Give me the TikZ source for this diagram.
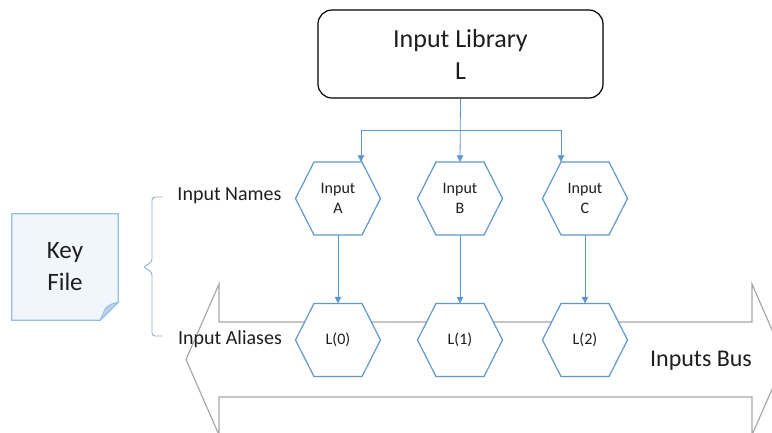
\documentclass[tikz,border=0pt]{standalone}
\usepackage{fontspec}
\setmainfont{Carlito}
\usetikzlibrary{arrows.meta}

\definecolor{hexblue}{RGB}{95,152,208}
\definecolor{arrowblue}{RGB}{92,148,205}
\definecolor{busgray}{RGB}{168,168,168}
\definecolor{notefill}{RGB}{240,246,252}
\definecolor{noteline}{RGB}{150,190,228}
\definecolor{notefold}{RGB}{185,207,234}
\definecolor{bracecol}{RGB}{150,172,198}
\definecolor{txt}{RGB}{30,30,30}

% hexagon with flat top and bottom, drawn behind a named text node
\newcommand\hexnode[3]{%
  \draw[hexline] (#2) ++(-42.5,0) -- ++(18.5,-36.5) -- ++(48,0) -- ++(18.5,36.5)
    -- ++(-18.5,36.5) -- ++(-48,0) -- cycle;
  \node[hexa] (#1) at (#2) {#3};}

\tikzset{
  hexline/.style={draw=hexblue, line width=1.2pt, fill=white, line join=miter},
  hexa/.style={rectangle, minimum width=85pt, minimum height=73pt, inner sep=0pt,
    align=center, font=\fontsize{16}{20}\selectfont, text=txt},
  conn/.style={draw=arrowblue, line width=0.8pt,
    -{Triangle[width=6.5pt,length=6.5pt]}},
  lbl/.style={font=\fontsize{20}{24}\selectfont, text=txt, inner sep=0pt},
}

\begin{document}
\begin{tikzpicture}[x=1pt, y=-1pt]
\useasboundingbox (0,0) rectangle (772,432);
\clip (0,0) rectangle (772,432);

% double-headed bus arrow
\draw[draw=busgray, line width=1.2pt, fill=white, line join=miter]
  (186,359.5) -- (219,284) -- (219,322) -- (752,322) -- (752,284)
  -- (785,359.5) -- (752,435) -- (752,397) -- (219,397) -- (219,435) -- cycle;
\node[font=\fontsize{24}{28}\selectfont, text=txt, inner sep=0pt] (bus) at (701,361) {Inputs Bus};

% library box
\node[draw=black, line width=1.2pt, rounded corners=14pt, fill=white,
  minimum width=285pt, minimum height=88pt, align=center,
  font=\fontsize{26}{32}\selectfont, text=txt] (lib) at (460.5,54) {Input Library\\L};

% input name hexagons
\hexnode{ha}{338,198.5}{Input\\A}
\hexnode{hb}{460,198.5}{Input\\B}
\hexnode{hc}{585,198.5}{Input\\C}

% alias hexagons
\hexnode{la}{338,340}{L(0)}
\hexnode{lb}{460,340}{L(1)}
\hexnode{lc}{585,340}{L(2)}

% library fan-out
\coordinate (split) at (460,130);
\draw[conn] (lib.south) -- (hb.north);
\draw[conn] (split) -| ([xshift=23pt]ha.north);
\draw[conn] (split) -| ([xshift=-24pt]hc.north);

% names to aliases
\draw[conn] (ha.south) -- (la.north);
\draw[conn] (hb.south) -- (lb.north);
\draw[conn] (hc.south) -- (lc.north);

% side labels
\node[lbl] (names) at (229.5,196) {Input Names};
\node[lbl] (aliases) at (230,339) {Input Aliases};

% brace grouping the two label rows
\draw[bracecol, line width=0.9pt, rounded corners=3pt]
  (163,197) -- (152,197) -- (152,262) -- (143,267) -- (152,272) -- (152,336) -- (163,336);

% key file note with folded corner
\node[minimum width=106pt, minimum height=106pt, inner sep=0pt] (key) at (65,267) {};
\fill[notefill] (key.north west) -- (key.north east) -- ([yshift=18pt]key.south east)
  -- ([xshift=-18pt]key.south east) -- (key.south west) -- cycle;
\draw[noteline, line width=1.2pt, line join=miter] (key.north west) -- (key.north east)
  -- ([yshift=18pt]key.south east) -- ([xshift=-18pt]key.south east) -- (key.south west) -- cycle;
\draw[noteline, line width=0.8pt, fill=notefold] ([yshift=18pt]key.south east)
  .. controls ([xshift=-12pt,yshift=15pt]key.south east) .. ([xshift=-18pt]key.south east) -- cycle;
\node[font=\fontsize{25}{32}\selectfont, text=txt, align=center] (keytxt) at (key) {Key\\File};
\end{tikzpicture}
\end{document}
